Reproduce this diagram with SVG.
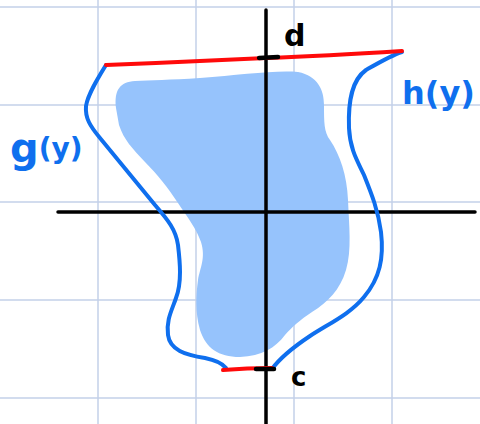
<svg xmlns="http://www.w3.org/2000/svg" width="480" height="424" viewBox="0 0 480 424">
  <style>
    .grid { stroke: #c3d1e8; stroke-width: 1.5; }
    .axis { stroke: #000; stroke-width: 3.5; stroke-linecap: round; fill: none; }
    .pen { stroke: #0f6fee; stroke-width: 4; fill: none; stroke-linecap: round; stroke-linejoin: round; }
    .red { stroke: #ff0a0a; stroke-width: 4; fill: none; stroke-linecap: round; }
    .tick { stroke: #000; stroke-width: 4.5; stroke-linecap: round; fill: none; }
    .lbl { font-family: "DejaVu Sans", "Liberation Sans", sans-serif; font-weight: bold; }
    .blue { fill: #0f6fee; }
  </style>
  <rect width="480" height="424" fill="#fff"/>
  <g id="grid">
    <line class="grid" x1="98" y1="0" x2="98" y2="424"/>
    <line class="grid" x1="196" y1="0" x2="196" y2="424"/>
    <line class="grid" x1="294" y1="0" x2="294" y2="424"/>
    <line class="grid" x1="392" y1="0" x2="392" y2="424"/>
    <line class="grid" x1="0" y1="7" x2="480" y2="7"/>
    <line class="grid" x1="0" y1="105" x2="480" y2="105"/>
    <line class="grid" x1="0" y1="202" x2="480" y2="202"/>
    <line class="grid" x1="0" y1="300" x2="480" y2="300"/>
    <line class="grid" x1="0" y1="398" x2="480" y2="398"/>
  </g>
  <g id="region">
    <path fill="#96c3fc" d="M116,108 C114,90 120,82 135,81 C150,80 170,80 200,78 C240,75 275,70 298,72 C318,76 324,90 324,105 C324,122 324,132 330,140 C340,155 347,175 348,200 C349,225 352,250 346,270 C340,290 328,302 312,312 C300,320 292,327 285,335 C275,348 262,356 240,357 C218,357 206,348 200,330 C195,312 196,295 198,280 C200,268 206,258 201,242 C196,228 188,218 178,203 C168,188 158,175 145,162 C132,148 124,140 119,125 Z"/>
  </g>
  <g id="connectors">
    <line class="axis" x1="266" y1="10" x2="266" y2="424"/>
    <line class="axis" x1="58" y1="212" x2="475" y2="212"/>
  </g>
  <g id="g-curve">
    <path class="pen" d="M106,65 C98,78 88,94 86,106 C85,118 90,126 100,138 L155,205 C168,220 176,230 178,245 C180,262 182,282 176,298 C172,310 166,320 168,335 C170,350 185,355 205,358 C215,360 222,363 226,368"/>
  </g>
  <g id="h-curve">
    <path class="pen" d="M402,52 C392,55 380,62 366,70 C352,80 348,100 349,128 C350,150 358,162 364,175 C372,195 378,210 381,232 C384,258 380,278 364,297 C350,314 330,323 310,336 C292,348 280,358 272,369"/>
  </g>
  <g id="d-bound">
    <path class="red" d="M106,65 C160,63 220,60 266,58 C320,56 370,53 402,51"/>
    <line class="tick" x1="259" y1="58" x2="278" y2="57"/>
    <text class="lbl" x="284" y="46" font-size="30">d</text>
  </g>
  <g id="c-bound">
    <path class="red" d="M223,370 C235,369 255,368 272,368"/>
    <line class="tick" x1="256" y1="369" x2="274" y2="369"/>
    <text class="lbl" x="291" y="386" font-size="26">c</text>
  </g>
  <g id="h-label">
    <text class="lbl blue" x="402" y="104" font-size="32">h(y)</text>
  </g>
  <g id="g-label">
    <text class="lbl blue" x="10" y="162" font-size="40">g<tspan font-size="28" dy="-4">(y)</tspan></text>
  </g>
</svg>
